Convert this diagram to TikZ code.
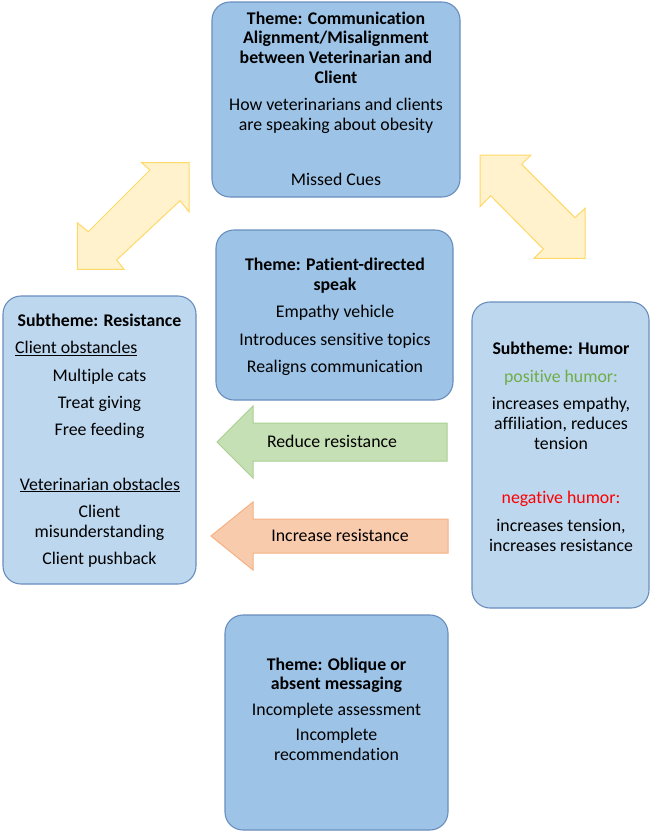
\documentclass[tikz,border=0pt]{standalone}
\usepackage{fontspec}
\setmainfont{Carlito}[Ligatures=NoCommon]
\definecolor{themefill}{RGB}{157,195,230}
\definecolor{subfill}{RGB}{189,215,238}
\definecolor{boxline}{RGB}{105,142,190}
\definecolor{yelfill}{RGB}{255,242,204}
\definecolor{yelline}{RGB}{255,217,102}
\definecolor{grnfill}{RGB}{197,224,180}
\definecolor{grnline}{RGB}{169,209,142}
\definecolor{orgfill}{RGB}{248,203,173}
\definecolor{orgline}{RGB}{244,177,131}
\definecolor{poshum}{RGB}{112,173,71}
\definecolor{neghum}{RGB}{255,0,0}
\begin{document}
\begin{tikzpicture}[x=1pt,y=-1pt,
  themebox/.style={draw=boxline, line width=1.1pt, fill=themefill, rounded corners=18pt, inner sep=0pt},
  subbox/.style={draw=boxline, line width=1.1pt, fill=subfill, rounded corners=18pt, inner sep=0pt},
  tl/.style={inner sep=0pt, anchor=base, font=\fontsize{17.8}{20}\selectfont},
  tll/.style={tl, anchor=base west},
  yelarrow/.style={fill=yelfill, draw=yelline, line width=1pt, line join=miter},
  grnarrow/.style={fill=grnfill, draw=grnline, line width=1pt},
  orgarrow/.style={fill=orgfill, draw=orgline, line width=1pt}]
\useasboundingbox (0,0) rectangle (650,836);
\fill[white] (0,0) rectangle (650,836);

% boxes
\node[themebox, minimum width=248pt, minimum height=195pt] (comm) at (336,99.5) {};
\node[themebox, minimum width=237pt, minimum height=170pt] (patient) at (334.5,315) {};
\node[subbox, minimum width=193pt, minimum height=288pt] (resist) at (99.5,440) {};
\node[subbox, minimum width=177pt, minimum height=306pt] (humor) at (560.5,455) {};
\node[themebox, minimum width=223pt, minimum height=215pt] (oblique) at (336.5,722.5) {};

% double arrows
\draw[yelarrow] (141.7,162.7) -- (189,162.7) -- (189,211.7) -- (180,200.7) -- (116.7,260)
  -- (124,269.3) -- (77.3,269.3) -- (77.3,222.7) -- (88.3,231.7) -- (150,170) -- cycle;
\draw[yelarrow] (480,155) -- (531,155) -- (521.7,164.3) -- (575,217.7) -- (585,208.3)
  -- (585,258.3) -- (534,258.3) -- (543.3,249) -- (490.7,195.7) -- (480,206.7) -- cycle;

% single arrows
\draw[grnarrow] (217,442) -- (253,406) -- (253,423) -- (447,423) -- (447,461) -- (253,461) -- (253,478) -- cycle;
\draw[orgarrow] (211,536) -- (253,502) -- (253,519) -- (448,519) -- (448,553) -- (253,553) -- (253,570) -- cycle;
\node[tl] (reduce) at (332,447) {Reduce resistance};
\node[tl] (increase) at (340,541.5) {Increase resistance};

% top box text
\node[tl] (c1) at (336,24) {\bfseries Theme: Communication};
\node[tl] (c2) at (336,43.5) {\bfseries Alignment/Misalignment};
\node[tl] (c3) at (336,63.5) {\bfseries between Veterinarian and};
\node[tl] (c4) at (336,83.5) {\bfseries Client};
\node[tl] (c5) at (336,110.5) {How veterinarians and clients};
\node[tl] (c6) at (336,130.5) {are speaking about obesity};
\node[tl] (c7) at (336,185.5) {Missed Cues};

% middle box text
\node[tl] (p1) at (335,270.5) {\bfseries Theme: Patient-directed};
\node[tl] (p2) at (335,290) {\bfseries speak};
\node[tl] (p3) at (335,317.5) {Empathy vehicle};
\node[tl] (p4) at (335,345) {Introduces sensitive topics};
\node[tl] (p5) at (335,372.5) {Realigns communication};

% left box text
\node[tl] (r1) at (99.5,326) {\bfseries Subtheme: Resistance};
\node[tll] (r2) at (15,353.5) {\underline{Client obstancles}};
\node[tl] (r3) at (99.5,381) {Multiple cats};
\node[tl] (r4) at (99.5,408) {Treat giving};
\node[tl] (r5) at (99.5,435) {Free feeding};
\node[tl] (r6) at (100,490) {\underline{Veterinarian obstacles}};
\node[tl] (r7) at (99.5,517.5) {Client};
\node[tl] (r8) at (99.5,537.5) {misunderstanding};
\node[tl] (r9) at (99.5,564.5) {Client pushback};

% right box text
\node[tl] (h1) at (561,354.5) {\bfseries Subtheme: Humor};
\node[tl, text=poshum] (h2) at (561,382) {positive humor:};
\node[tl] (h3) at (561,409) {increases empathy,};
\node[tl] (h4) at (561,429) {affiliation, reduces};
\node[tl] (h5) at (561,449) {tension};
\node[tl, text=neghum] (h6) at (561,503.5) {negative humor:};
\node[tl] (h7) at (561,531) {increases tension,};
\node[tl] (h8) at (561,551) {increases resistance};

% bottom box text
\node[tl] (o1) at (336.5,670) {\bfseries Theme: Oblique or};
\node[tl] (o2) at (336.5,689.5) {\bfseries absent messaging};
\node[tl] (o3) at (336.5,715.5) {Incomplete assessment};
\node[tl] (o4) at (336.5,740.5) {Incomplete};
\node[tl] (o5) at (336.5,760) {recommendation};
\end{tikzpicture}
\end{document}
